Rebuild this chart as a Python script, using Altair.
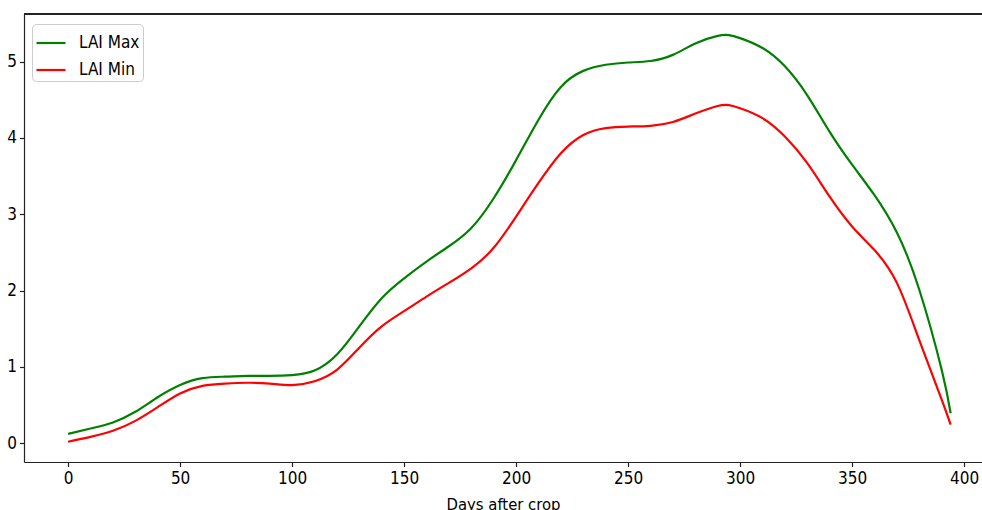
import altair as alt
import pandas as pd

days = [0, 10, 20, 30, 40, 50, 60, 70, 80, 90, 100, 110, 120, 130, 140, 150,
        160, 170, 180, 190, 200, 210, 220, 230, 240, 250, 260, 270, 280, 290,
        295, 300, 310, 320, 330, 340, 350, 360, 370, 380, 390, 394]
lai_max = [0.12, 0.19, 0.27, 0.41, 0.60, 0.76, 0.85, 0.87, 0.88, 0.88, 0.89, 0.95, 1.16,
           1.53, 1.90, 2.16, 2.38, 2.58, 2.82, 3.21, 3.71, 4.24, 4.67, 4.88, 4.96,
           4.99, 5.01, 5.09, 5.24, 5.34, 5.35, 5.31, 5.18, 4.94, 4.56, 4.08, 3.65,
           3.25, 2.76, 2.01, 0.96, 0.39]
lai_min = [0.017, 0.08, 0.16, 0.29, 0.47, 0.65, 0.75, 0.78, 0.79, 0.78, 0.76, 0.81, 0.96,
           1.25, 1.53, 1.73, 1.92, 2.10, 2.29, 2.56, 2.97, 3.41, 3.80, 4.04, 4.13,
           4.15, 4.16, 4.21, 4.32, 4.42, 4.43, 4.39, 4.26, 4.02, 3.67, 3.23, 2.84,
           2.53, 2.10, 1.35, 0.57, 0.24]
series_names = ["LAI Max", "LAI Min"]
series_colors = ["#008000", "#ff0000"]
x_ticks = [0, 50, 100, 150, 200, 250, 300, 350, 400]
y_ticks = [0, 1, 2, 3, 4, 5]

rows = []
for d, v in zip(days, lai_max):
    rows.append({"day": d, "lai": v, "series": series_names[0]})
for d, v in zip(days, lai_min):
    rows.append({"day": d, "lai": v, "series": series_names[1]})
df = pd.DataFrame(rows)

FONT = "DejaVu Sans Condensed, Liberation Sans Narrow, Roboto Condensed, DejaVu Sans"

lines = alt.Chart(df).mark_line(strokeWidth=2.2, interpolate="natural").encode(
    x=alt.X("day:Q",
            scale=alt.Scale(domain=[-19.7, 408.0], nice=False, zero=False),
            axis=alt.Axis(values=x_ticks, title="Days after crop", grid=False,
                          tickSize=4.5, labelPadding=4, titlePadding=10,
                          titleFontSize=16.5,
                          domainColor="#222222", tickColor="#222222")),
    y=alt.Y("lai:Q",
            scale=alt.Scale(domain=[-0.249, 5.626], nice=False, zero=False),
            axis=alt.Axis(values=y_ticks, title=None, grid=False,
                          tickSize=4.5, labelPadding=3,
                          domainColor="#222222", tickColor="#222222")),
    color=alt.Color("series:N",
                    scale=alt.Scale(domain=series_names, range=series_colors),
                    legend=alt.Legend(title=None, orient="none", legendX=8, legendY=10,
                                      symbolType="stroke", symbolSize=841,
                                      symbolStrokeWidth=2.2, labelFontSize=17,
                                      labelFont=FONT, labelColor="#000000",
                                      labelOffset=12, rowPadding=3,
                                      padding=3, strokeColor="#cccccc",
                                      fillColor="#ffffff", cornerRadius=4)),
)

top_spine = alt.Chart(df).mark_rule(color="#222222", strokeWidth=1.2).encode(
    y=alt.value(0)
)

chart = alt.layer(lines, top_spine).properties(
    width=958, height=448,
    padding={"left": 24, "top": 14, "right": 0, "bottom": 48},
    autosize=alt.AutoSizeParams(type="none"),
).configure_view(strokeWidth=0).configure_axis(
    labelFont=FONT, titleFont=FONT, labelFontSize=17, titleFontSize=17,
    labelColor="#000000", titleColor="#000000", titleFontWeight="normal",
    domainWidth=1.2, tickWidth=1.2,
)

chart.save("out.html", embed_options={"renderer": "svg", "actions": False})
